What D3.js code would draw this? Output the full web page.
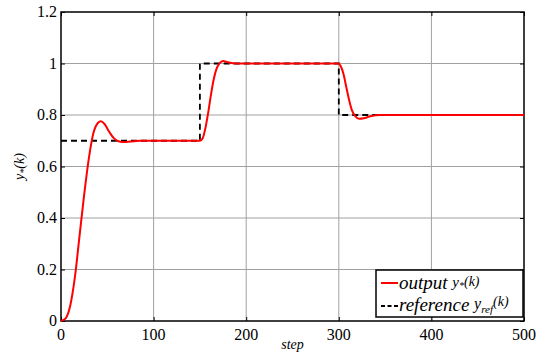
<!DOCTYPE html>
<html>
<head>
<meta charset="utf-8">
<script src="https://cdn.jsdelivr.net/npm/d3@7"></script>
</head>
<body style="margin:0">
<script>
// output y*(k)
const outSteps = [0, 5, 10, 15, 20, 25, 30, 35, 40, 43, 47, 52, 57, 62, 67, 75, 85, 150, 153, 156, 159, 162, 165, 168, 171, 175, 180, 190, 300, 302, 305, 308, 311, 314, 318, 322, 327, 334, 345, 500];
const outValues = [0, 0.01, 0.06, 0.17, 0.33, 0.49, 0.63, 0.73, 0.77, 0.776, 0.765, 0.735, 0.71, 0.698, 0.695, 0.697, 0.70, 0.70, 0.71, 0.75, 0.81, 0.88, 0.94, 0.98, 1.0, 1.01, 1.005, 1.0, 1.0, 0.99, 0.96, 0.91, 0.86, 0.82, 0.795, 0.785, 0.787, 0.795, 0.8, 0.8];

// reference y_ref(k)
const refSteps = [0, 150, 150, 300, 300, 500];
const refValues = [0.7, 0.7, 1.0, 1.0, 0.8, 0.8];

const xTicks = [0, 100, 200, 300, 400, 500];
const yTicks = [0, 0.2, 0.4, 0.6, 0.8, 1, 1.2];

const FONT = 'Tinos, "Times New Roman", serif';

const width = 542, height = 353;
const margin = { top: 12, right: 18, bottom: 32, left: 61 };
const innerWidth = width - margin.left - margin.right,
      innerHeight = height - margin.top - margin.bottom;

const svg = d3.select('body').append('svg')
  .attr('width', width)
  .attr('height', height)
  .style('font-family', FONT);

const g = svg.append('g')
  .attr('transform', `translate(${margin.left},${margin.top})`);

const xScale = d3.scaleLinear().domain([0, 500]).range([0, innerWidth]);
const yScale = d3.scaleLinear().domain([0, 1.2]).range([innerHeight, 0]);

// grid
g.append('g').selectAll('line')
  .data(xTicks.slice(1, -1))
  .enter().append('line')
  .attr('x1', d => xScale(d)).attr('x2', d => xScale(d))
  .attr('y1', 0).attr('y2', innerHeight)
  .attr('stroke', '#a0a0a0');

g.append('g').selectAll('line')
  .data(yTicks.slice(1, -1))
  .enter().append('line')
  .attr('y1', d => yScale(d)).attr('y2', d => yScale(d))
  .attr('x1', 0).attr('x2', innerWidth)
  .attr('stroke', '#a0a0a0');

// tick labels drawn as plain text from the scales
g.append('g').selectAll('text')
  .data(xTicks)
  .enter().append('text')
  .attr('x', d => xScale(d))
  .attr('y', innerHeight + 19)
  .attr('text-anchor', 'middle')
  .style('font-family', FONT)
  .style('font-size', '16px')
  .text(d => d);

g.append('g').selectAll('text')
  .data(yTicks)
  .enter().append('text')
  .attr('x', -4)
  .attr('y', d => yScale(d) + 5)
  .attr('text-anchor', 'end')
  .style('font-family', FONT)
  .style('font-size', '16px')
  .text(d => String(+d.toFixed(1)));

// inward tick marks on all four sides
g.append('g').attr('transform', `translate(0,${innerHeight})`)
  .call(d3.axisBottom(xScale).tickValues(xTicks).tickSize(-4).tickFormat(''));
g.append('g')
  .call(d3.axisLeft(yScale).tickValues(yTicks).tickSize(-4).tickFormat(''));
g.append('g').call(d3.axisTop(xScale).tickValues(xTicks).tickSize(-4).tickFormat(''));
g.append('g').attr('transform', `translate(${innerWidth},0)`)
  .call(d3.axisRight(yScale).tickValues(yTicks).tickSize(-4).tickFormat(''));
g.selectAll('.domain').remove();
g.selectAll('.tick line').attr('stroke', '#000');

// frame
g.append('rect')
  .attr('width', innerWidth).attr('height', innerHeight)
  .attr('fill', 'none').attr('stroke', '#000').attr('stroke-width', 1.5);

// lines
const outData = outSteps.map((s, i) => ({ s, v: outValues[i] }));
const refData = refSteps.map((s, i) => ({ s, v: refValues[i] }));

g.append('path')
  .datum(refData)
  .attr('fill', 'none')
  .attr('stroke', '#000')
  .attr('stroke-width', 1.8)
  .attr('stroke-dasharray', '6,4')
  .attr('d', d3.line().x(d => xScale(d.s)).y(d => yScale(d.v)));

g.append('path')
  .datum(outData)
  .attr('fill', 'none')
  .attr('stroke', '#ff0000')
  .attr('stroke-width', 2)
  .attr('d', d3.line().curve(d3.curveMonotoneX).x(d => xScale(d.s)).y(d => yScale(d.v)));

// legend
const lg = svg.append('g').attr('transform', 'translate(376,270)');
lg.append('rect').attr('width', 147).attr('height', 47)
  .attr('fill', '#fff').attr('stroke', '#000').attr('stroke-width', 1.5);
lg.append('line').attr('x1', 5).attr('x2', 22).attr('y1', 13).attr('y2', 13)
  .attr('stroke', '#ff0000').attr('stroke-width', 2);
lg.append('line').attr('x1', 5).attr('x2', 22).attr('y1', 36).attr('y2', 36)
  .attr('stroke', '#000').attr('stroke-width', 1.8).attr('stroke-dasharray', '4,2.5');

const t1 = lg.append('text').attr('x', 23).attr('y', 19)
  .style('font-family', FONT).style('font-style', 'italic').style('font-size', '19px');
t1.append('tspan').text('output ');
t1.append('tspan').style('font-size', '15px').attr('dy', -2).text('y');
t1.append('tspan').style('font-size', '10px').attr('dy', 2).text('*');
t1.append('tspan').style('font-size', '14px').attr('dy', -3).text('(k)');

const t2 = lg.append('text').attr('x', 23).attr('y', 41)
  .style('font-family', FONT).style('font-style', 'italic').style('font-size', '19px');
t2.append('tspan').text('reference ');
t2.append('tspan').style('font-size', '16px').attr('dy', -2).text('y');
t2.append('tspan').style('font-size', '11px').attr('dy', 4).text('ref');
t2.append('tspan').style('font-size', '14px').attr('dy', -7).text('(k)');

// axis labels
svg.append('text')
  .attr('x', margin.left + innerWidth / 2).attr('y', 349)
  .attr('text-anchor', 'middle')
  .style('font-family', FONT).style('font-style', 'italic').style('font-size', '14px')
  .text('step');

const yl = svg.append('text')
  .attr('transform', `translate(24,${margin.top + innerHeight / 2}) rotate(-90)`)
  .attr('text-anchor', 'middle')
  .style('font-family', FONT).style('font-style', 'italic').style('font-size', '14px');
yl.append('tspan').text('y');
yl.append('tspan').style('font-size', '10px').attr('dy', 3).text('*');
yl.append('tspan').attr('dy', -3).text('(k)');
</script>
</body>
</html>
